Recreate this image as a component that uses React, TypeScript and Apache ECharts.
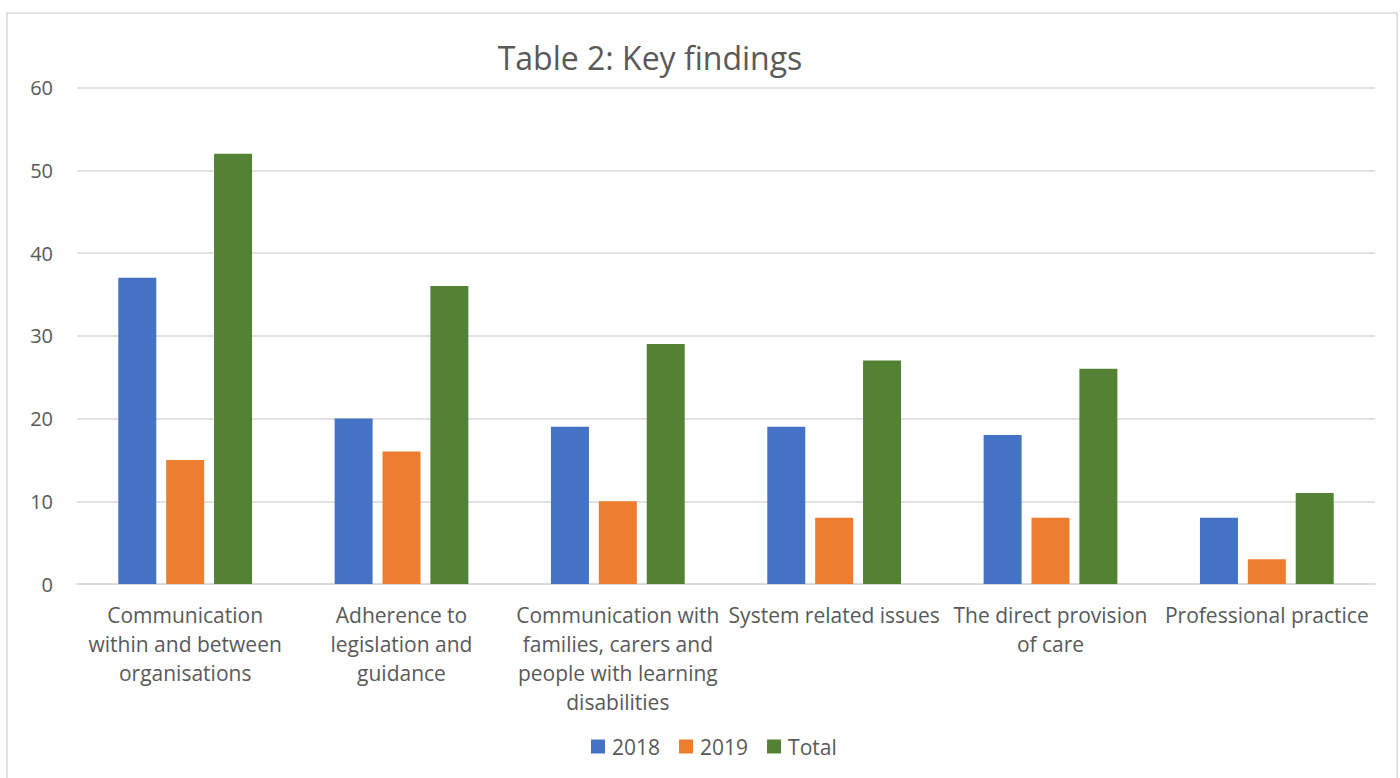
import React, { useEffect, useRef } from "react";
import * as echarts from "echarts";

const categories = [
  "Communication\nwithin and between\norganisations",
  "Adherence to\nlegislation and\nguidance",
  "Communication with\nfamilies, carers and\npeople with learning\ndisabilities",
  "System related issues",
  "The direct provision\nof care",
  "Professional practice",
];
const seriesNames = ["2018", "2019", "Total"];
const values2018 = [37, 20, 19, 19, 18, 8];
const values2019 = [15, 16, 10, 8, 8, 3];
const valuesTotal = [52, 36, 29, 27, 26, 11];
const colors = ["#4472C4", "#ED7D31", "#548235"];

const FONT = "'Open Sans', sans-serif";

export default function App() {
  const ref = useRef<HTMLDivElement>(null);
  useEffect(() => {
    if (!ref.current) return;
    const chart = echarts.init(ref.current, undefined, { renderer: "svg" });
    const data = [values2018, values2019, valuesTotal];
    chart.setOption({
      animation: false,
      backgroundColor: "#ffffff",
      textStyle: { fontFamily: FONT },
      graphic: [
        {
          type: "rect",
          shape: { x: 7, y: 13, width: 1390, height: 790 },
          style: { fill: "none", stroke: "#d9d9d9", lineWidth: 1.5 },
          silent: true,
        },
        {
          type: "text",
          x: 650,
          y: 57,
          style: {
            text: "Table 2: Key findings",
            fontSize: 32,
            fill: "#595959",
            fontFamily: FONT,
            align: "center",
            verticalAlign: "middle",
          },
        },
      ],
      legend: {
        data: seriesNames,
        bottom: 16,
        left: 586,
        itemWidth: 14,
        itemHeight: 14,
        itemGap: 19,
        icon: "rect",
        textStyle: { fontSize: 21, color: "#595959", fontFamily: FONT, padding: [0, 0, 0, 2] },
      },
      grid: { left: 77, right: 25, top: 87.5, bottom: 194, containLabel: false },
      xAxis: {
        type: "category",
        data: categories,
        axisTick: { show: false },
        axisLine: { lineStyle: { color: "#d9d9d9", width: 1.5 } },
        axisLabel: {
          interval: 0,
          color: "#595959",
          fontSize: 21,
          lineHeight: 29,
          margin: 16,
          fontFamily: FONT,
        },
      },
      yAxis: {
        type: "value",
        min: 0,
        max: 60,
        interval: 10,
        axisLine: { show: false },
        axisTick: { show: false },
        splitLine: { lineStyle: { color: "#d9d9d9", width: 1.5 } },
        axisLabel: { color: "#595959", fontSize: 20, margin: 24, fontFamily: FONT },
      },
      series: seriesNames.map((name, i) => ({
        name,
        type: "bar",
        data: data[i],
        barWidth: 38,
        barGap: "26%",
        itemStyle: { color: colors[i] },
      })),
    });
    return () => chart.dispose();
  }, []);
  return (
    <div
      ref={ref}
      style={{ position: "fixed", left: 0, top: 0, width: 1400, height: 778 }}
    />
  );
}
